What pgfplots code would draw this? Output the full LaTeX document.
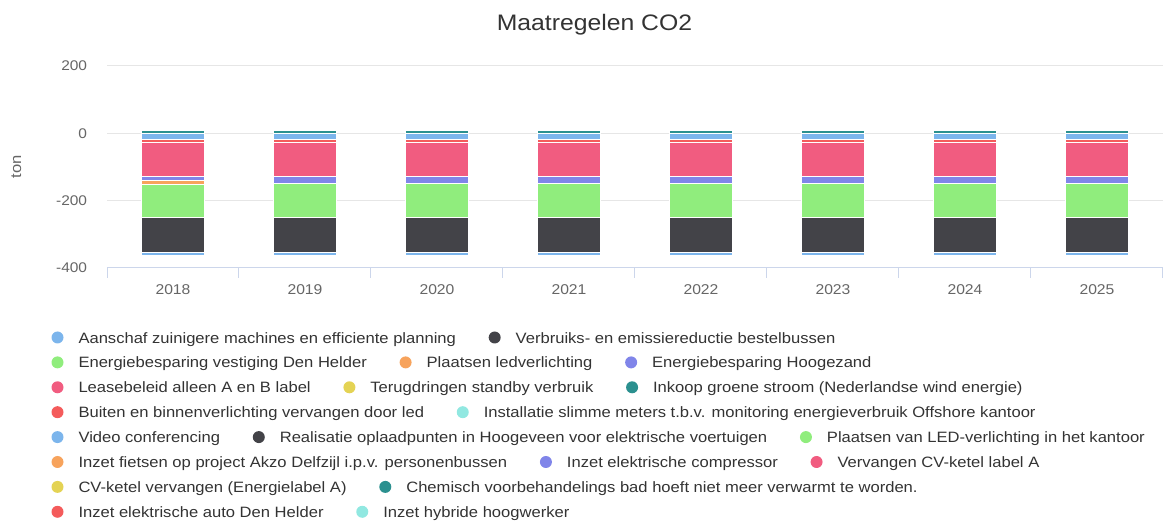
\documentclass[border=0pt]{standalone}
\usepackage{fontspec}
\setmainfont[FakeStretch=1.105]{Liberation Sans}
\usepackage{pgfplots}
\pgfplotsset{compat=1.18}
\usetikzlibrary{calc}
\definecolor{lb}{HTML}{7CB5EC}
\definecolor{dk}{HTML}{434348}
\definecolor{gr}{HTML}{90ED7D}
\definecolor{or}{HTML}{F7A35C}
\definecolor{pu}{HTML}{8085E9}
\definecolor{pk}{HTML}{F15C80}
\definecolor{ye}{HTML}{E4D354}
\definecolor{te}{HTML}{2B908F}
\definecolor{rd}{HTML}{F45B5B}
\definecolor{cy}{HTML}{91E8E1}
\definecolor{gridc}{HTML}{E6E6E6}
\definecolor{axisc}{HTML}{CCD6EB}
\definecolor{labc}{HTML}{666666}
\definecolor{txtc}{HTML}{333333}

\pgfplotstableread{
x video buiten lease hoogezand led denhelder verbruiks aanschaf
0 -18 -10 -100 -12 -11 -99 -103 -9
1 -18 -10 -99 -21 0 -102 -103 -9
2 -18 -10 -99 -21 0 -102 -103 -9
3 -18 -10 -99 -21 0 -102 -103 -9
4 -18 -10 -99 -21 0 -102 -103 -9
5 -18 -10 -99 -21 0 -102 -103 -9
6 -18 -10 -99 -21 0 -102 -103 -9
7 -18 -10 -99 -21 0 -102 -103 -9
}\negdata

\pgfplotstableread{
x inkoop
0 8
1 8
2 8
3 8
4 8
5 8
6 8
7 8
}\posdata

\tikzset{legtext/.style={inner sep=0pt, text=txtc, font=\fontsize{15bp}{18bp}\selectfont}}
\newcommand{\legfirst}[5]{% name, color, ycenter, ybase, text
  \fill[#2] (57.5bp,#3) circle (6bp);
  \node[legtext, anchor=base west] (#1) at (78.3bp,#4) {#5};
}
\newcommand{\legnext}[4]{% prev, name, color, text
  \fill[#3] ($(#1.base east)+(38.5bp,5.6bp)$) circle (6bp);
  \node[legtext, anchor=base west] (#2) at ($(#1.base east)+(59.3bp,0bp)$) {#4};
}

\begin{document}
\begin{tikzpicture}
\path[use as bounding box] (0,0) rectangle (1166bp,522bp);
\begin{axis}[
  at={(107bp,254bp)}, anchor=south west,
  scale only axis, width=1056bp, height=202bp,
  xmin=-0.5, xmax=7.5, ymin=-400, ymax=200,
  ybar stacked, bar width=63bp,
  xtick={0,1,2,3,4,5,6,7},
  xticklabels={2018,2019,2020,2021,2022,2023,2024,2025},
  ytick={-400,-200,0,200}, yticklabels={-400,-200,0,200},
  ymajorgrids, grid style={color=gridc, line width=1bp},
  axis x line*=bottom, axis y line*=left,
  x axis line style={color=axisc, line width=1bp, -},
  y axis line style={draw=none},
  tick style={color=axisc, line width=1bp},
  major tick length=0pt,
  extra x ticks={-0.5,0.5,1.5,2.5,3.5,4.5,5.5,6.5,7.5},
  extra x tick labels={},
  extra x tick style={major tick length=10bp, tick align=outside},
  x tick label style={font=\fontsize{14.2bp}{16bp}\selectfont, text=labc, anchor=base, inner sep=0pt, yshift=-27bp},
  y tick label style={font=\fontsize{14bp}{16bp}\selectfont, text=labc, anchor=east, inner sep=0pt, xshift=-19.7bp},
]
\addplot[fill=lb, draw=white, line width=1bp] table[x=x, y=video] {\negdata};
\addplot[fill=rd, draw=white, line width=1bp] table[x=x, y=buiten] {\negdata};
\addplot[fill=pk, draw=white, line width=1bp] table[x=x, y=lease] {\negdata};
\addplot[fill=pu, draw=white, line width=1bp] table[x=x, y=hoogezand] {\negdata};
\addplot[fill=or, draw=white, line width=1bp] table[x=x, y=led] {\negdata};
\addplot[fill=gr, draw=white, line width=1bp] table[x=x, y=denhelder] {\negdata};
\addplot[fill=dk, draw=white, line width=1bp] table[x=x, y=verbruiks] {\negdata};
\addplot[fill=lb, draw=white, line width=1bp] table[x=x, y=aanschaf] {\negdata};
\end{axis}
\begin{axis}[
  at={(107bp,254bp)}, anchor=south west,
  scale only axis, width=1056bp, height=202bp,
  xmin=-0.5, xmax=7.5, ymin=-400, ymax=200,
  hide axis, ybar, bar width=63bp,
]
\addplot[fill=te, draw=white, line width=1bp] table[x=x, y=inkoop] {\posdata};
\end{axis}

\node[anchor=base, text=txtc, font=\fontsize{22.4bp}{26bp}\selectfont] at (594.5bp,491.3bp) {Maatregelen CO2};
\node[rotate=90, text=labc, font=\fontsize{15bp}{18bp}\selectfont] at (16.3bp,355bp) {ton};

\legfirst{a1}{lb}{184.5bp}{178.9bp}{Aanschaf zuinigere machines en efficiente planning}
\legnext{a1}{a2}{dk}{Verbruiks- en emissiereductie bestelbussen}

\legfirst{b1}{gr}{159.6bp}{154.0bp}{Energiebesparing vestiging Den Helder}
\legnext{b1}{b2}{or}{Plaatsen ledverlichting}
\legnext{b2}{b3}{pu}{Energiebesparing Hoogezand}

\legfirst{c1}{pk}{134.7bp}{129.1bp}{Leasebeleid alleen A en B label}
\legnext{c1}{c2}{ye}{Terugdringen standby verbruik}
\legnext{c2}{c3}{te}{Inkoop groene stroom (Nederlandse wind energie)}

\legfirst{d1}{rd}{109.8bp}{104.2bp}{Buiten en binnenverlichting vervangen door led}
\legnext{d1}{d2}{cy}{Installatie slimme meters t.b.v. monitoring energieverbruik Offshore kantoor}

\legfirst{e1}{lb}{84.9bp}{79.3bp}{Video conferencing}
\legnext{e1}{e2}{dk}{Realisatie oplaadpunten in Hoogeveen voor elektrische voertuigen}
\legnext{e2}{e3}{gr}{Plaatsen van LED-verlichting in het kantoor}

\legfirst{f1}{or}{60.0bp}{54.4bp}{Inzet fietsen op project Akzo Delfzijl i.p.v. personenbussen}
\legnext{f1}{f2}{pu}{Inzet elektrische compressor}
\legnext{f2}{f3}{pk}{Vervangen CV-ketel label A}

\legfirst{g1}{ye}{35.1bp}{29.5bp}{CV-ketel vervangen (Energielabel A)}
\legnext{g1}{g2}{te}{Chemisch voorbehandelings bad hoeft niet meer verwarmt te worden.}

\legfirst{h1}{rd}{10.2bp}{4.6bp}{Inzet elektrische auto Den Helder}
\legnext{h1}{h2}{cy}{Inzet hybride hoogwerker}
\end{tikzpicture}
\end{document}
